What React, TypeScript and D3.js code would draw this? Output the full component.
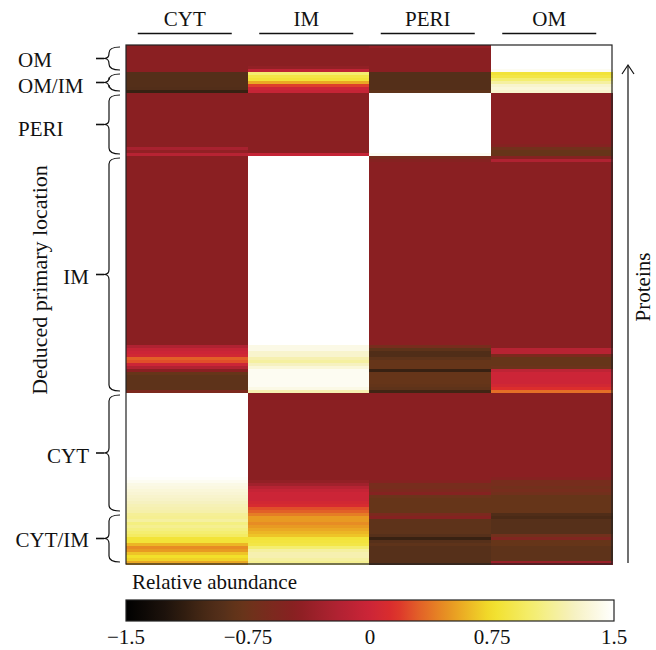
import React from "react";
import * as d3 from "d3";

// Columns (fractions) and deduced primary locations (row groups)
const columns = ["CYT", "IM", "PERI", "OM"];
const groupNames = ["OM", "OM/IM", "PERI", "IM", "CYT", "CYT/IM"];

// Each row = one protein: [CYT, IM, PERI, OM] relative abundance
const omRows: number[][] = [
  [-0.45, -0.45, -0.38, 1.5], [-0.45, -0.45, -0.45, 1.5], [-0.45, -0.45, -0.45, 1.5],
  [-0.45, -0.45, -0.45, 1.5], [-0.45, -0.45, -0.45, 1.5], [-0.45, -0.45, -0.45, 1.5],
  [-0.45, -0.45, -0.45, 1.5], [-0.45, -0.4, -0.45, 1.5], [-0.45, -0.1, -0.45, 1.45],
];
const omImRows: number[][] = [
  [-0.92, 1.0, -0.92, 0.8], [-0.92, 0.85, -0.92, 0.85], [-0.92, 0.8, -0.92, 1.0],
  [-0.92, 0.55, -0.92, 1.15], [-0.92, 0.2, -0.92, 1.3], [-0.93, 0.0, -0.92, 1.35],
  [-1.1, -0.05, -0.85, 1.3],
];
const periRows: number[][] = [
  [-0.45, -0.45, 1.5, -0.45], [-0.45, -0.45, 1.5, -0.45], [-0.45, -0.45, 1.5, -0.45],
  [-0.45, -0.45, 1.5, -0.45], [-0.45, -0.45, 1.5, -0.45], [-0.45, -0.45, 1.5, -0.45],
  [-0.45, -0.45, 1.5, -0.45], [-0.45, -0.45, 1.5, -0.45], [-0.45, -0.45, 1.5, -0.45],
  [-0.45, -0.45, 1.5, -0.45], [-0.45, -0.45, 1.5, -0.45], [-0.45, -0.45, 1.5, -0.45],
  [-0.45, -0.45, 1.5, -0.45], [-0.45, -0.45, 1.5, -0.45], [-0.45, -0.45, 1.5, -0.45],
  [-0.45, -0.45, 1.5, -0.45], [-0.45, -0.45, 1.5, -0.45], [-0.45, -0.45, 1.5, -0.5],
  [-0.25, -0.45, 1.5, -0.7], [-0.4, -0.45, 1.5, -0.8], [-0.15, -0.05, 1.45, -0.8],
];
const imRows: number[][] = [
  [-0.45, 1.5, -0.65, -0.5], [-0.45, 1.5, -0.5, -0.2],
  [-0.45, 1.5, -0.45, -0.45], [-0.45, 1.5, -0.45, -0.45], [-0.45, 1.5, -0.45, -0.45],
  [-0.45, 1.5, -0.45, -0.45], [-0.45, 1.5, -0.45, -0.45], [-0.45, 1.5, -0.45, -0.45],
  [-0.45, 1.5, -0.45, -0.45], [-0.45, 1.5, -0.45, -0.45], [-0.45, 1.5, -0.45, -0.45],
  [-0.45, 1.5, -0.45, -0.45], [-0.45, 1.5, -0.45, -0.45], [-0.45, 1.5, -0.45, -0.45],
  [-0.45, 1.5, -0.45, -0.45], [-0.45, 1.5, -0.45, -0.45], [-0.45, 1.5, -0.45, -0.45],
  [-0.45, 1.5, -0.45, -0.45], [-0.45, 1.5, -0.45, -0.45], [-0.45, 1.5, -0.45, -0.45],
  [-0.45, 1.5, -0.45, -0.45], [-0.45, 1.5, -0.45, -0.45], [-0.45, 1.5, -0.45, -0.45],
  [-0.45, 1.5, -0.45, -0.45], [-0.45, 1.5, -0.45, -0.45], [-0.45, 1.5, -0.45, -0.45],
  [-0.45, 1.5, -0.45, -0.45], [-0.45, 1.5, -0.45, -0.45], [-0.45, 1.5, -0.45, -0.45],
  [-0.45, 1.5, -0.45, -0.45], [-0.45, 1.5, -0.45, -0.45], [-0.45, 1.5, -0.45, -0.45],
  [-0.45, 1.5, -0.45, -0.45], [-0.45, 1.5, -0.45, -0.45], [-0.45, 1.5, -0.45, -0.45],
  [-0.45, 1.5, -0.45, -0.45], [-0.45, 1.5, -0.45, -0.45], [-0.45, 1.5, -0.45, -0.45],
  [-0.45, 1.5, -0.45, -0.45], [-0.45, 1.5, -0.45, -0.45], [-0.45, 1.5, -0.45, -0.45],
  [-0.45, 1.5, -0.45, -0.45], [-0.45, 1.5, -0.45, -0.45], [-0.45, 1.5, -0.45, -0.45],
  [-0.45, 1.5, -0.45, -0.45], [-0.45, 1.5, -0.45, -0.45], [-0.45, 1.5, -0.45, -0.45],
  [-0.45, 1.5, -0.45, -0.45], [-0.45, 1.5, -0.45, -0.45], [-0.45, 1.5, -0.45, -0.45],
  [-0.45, 1.5, -0.45, -0.45], [-0.45, 1.5, -0.45, -0.45], [-0.45, 1.5, -0.45, -0.45],
  [-0.45, 1.5, -0.45, -0.45], [-0.45, 1.5, -0.45, -0.45], [-0.45, 1.5, -0.45, -0.45],
  [-0.45, 1.5, -0.45, -0.45], [-0.45, 1.5, -0.45, -0.45], [-0.45, 1.5, -0.45, -0.45],
  [-0.45, 1.5, -0.45, -0.45], [-0.45, 1.5, -0.45, -0.45], [-0.45, 1.5, -0.45, -0.45],
  [-0.45, 1.5, -0.45, -0.45],
  [-0.2, 1.4, -0.65, -0.45], [-0.05, 1.4, -0.85, -0.15], [0.0, 1.3, -0.95, -0.15],
  [0.05, 1.3, -0.95, -0.6], [0.3, 1.2, -0.85, -0.8], [0.25, 1.15, -0.8, -0.8],
  [0.0, 1.25, -0.8, -0.8], [-0.2, 1.35, -0.8, -0.75], [-0.45, 1.45, -1.1, -0.1],
  [-0.8, 1.45, -0.8, 0.0], [-0.85, 1.45, -0.8, 0.0], [-0.85, 1.45, -0.8, 0.0],
  [-0.85, 1.45, -0.8, 0.0], [-0.85, 1.45, -0.82, 0.05], [-0.85, 1.4, -0.85, 0.15],
  [-0.6, 1.2, -1.05, 0.35],
];
const cytRows: number[][] = [
  [1.5, -0.45, -0.45, -0.45], [1.5, -0.45, -0.45, -0.45], [1.5, -0.45, -0.45, -0.45],
  [1.5, -0.45, -0.45, -0.45], [1.5, -0.45, -0.45, -0.45], [1.5, -0.45, -0.45, -0.45],
  [1.5, -0.45, -0.45, -0.45], [1.5, -0.45, -0.45, -0.45], [1.5, -0.45, -0.45, -0.45],
  [1.5, -0.45, -0.45, -0.45], [1.5, -0.45, -0.45, -0.45], [1.5, -0.45, -0.45, -0.45],
  [1.5, -0.45, -0.45, -0.45], [1.5, -0.45, -0.45, -0.45], [1.5, -0.45, -0.45, -0.45],
  [1.5, -0.45, -0.45, -0.45], [1.5, -0.45, -0.45, -0.45], [1.5, -0.45, -0.45, -0.45],
  [1.5, -0.45, -0.45, -0.45], [1.5, -0.45, -0.45, -0.45], [1.5, -0.45, -0.45, -0.45],
  [1.5, -0.45, -0.45, -0.45], [1.5, -0.45, -0.45, -0.45], [1.5, -0.45, -0.45, -0.45],
  [1.5, -0.45, -0.45, -0.45], [1.5, -0.45, -0.45, -0.45], [1.5, -0.45, -0.45, -0.45],
  [1.5, -0.45, -0.45, -0.45],
  [1.48, -0.45, -0.45, -0.5], [1.45, -0.4, -0.5, -0.65], [1.4, -0.3, -0.65, -0.65],
  [1.38, -0.15, -0.65, -0.7], [1.35, -0.05, -0.6, -0.65], [1.33, 0.0, -0.5, -0.7],
  [1.3, 0.0, -0.75, -0.8], [1.28, 0.0, -0.8, -0.8], [1.25, 0.05, -0.8, -0.8],
  [1.22, 0.1, -0.8, -0.8], [1.2, 0.25, -0.8, -0.8], [1.18, 0.3, -0.8, -0.8],
];
const cytImRows: number[][] = [
  [1.12, 0.4, -0.6, -0.95], [1.1, 0.5, -0.5, -1.0], [1.15, 0.5, -0.85, -0.9],
  [1.05, 0.45, -0.85, -0.9], [1.1, 0.5, -0.85, -0.9], [1.05, 0.55, -0.85, -0.9],
  [1.0, 0.6, -0.85, -0.9], [0.95, 0.65, -0.9, -0.7], [0.8, 0.8, -1.1, -0.55],
  [0.8, 0.82, -0.9, -0.8], [0.6, 0.85, -0.85, -0.8], [0.45, 1.0, -0.9, -0.85],
  [0.5, 1.15, -0.9, -0.85], [0.65, 1.2, -0.9, -0.85], [0.75, 1.2, -0.9, -0.85],
  [0.7, 1.15, -0.9, -0.85], [0.55, 1.1, -0.9, -0.35],
];

// Colour scale (relative abundance -> heat palette)
const colorDomain = [-1.5, -1.25, -1.0, -0.9, -0.8, -0.7, -0.45, -0.2, 0.0, 0.15, 0.3, 0.5, 0.75, 1.0, 1.25, 1.5];
const colorRange = ["#000000", "#1e130c", "#4a2a16", "#56301a", "#663519", "#72301c", "#8a1f22", "#b02232",
  "#cc2537", "#dc2e2c", "#e26028", "#e89a22", "#f2e02a", "#f4ee70", "#f6f1c0", "#ffffff"];
const legendTicks = [-1.5, -0.75, 0, 0.75, 1.5];
const legendTickLabels = ["\u22121.5", "\u22120.75", "0", "0.75", "1.5"];

const FONT = "'Liberation Serif', 'DejaVu Serif', serif";

export default function App() {
  const groups = [omRows, omImRows, periRows, imRows, cytRows, cytImRows];
  const rows = groups.flat();
  const x = d3.scaleBand<string>().domain(columns).range([126, 612]);
  const y = d3.scaleBand<number>().domain(d3.range(rows.length)).range([45, 564]);
  const color = d3.scaleLinear<string>().domain(colorDomain).range(colorRange).clamp(true);
  const lx = d3.scaleLinear().domain([-1.5, 1.5]).range([126, 614]);

  // group extents
  let start = 0;
  const groupInfo = groups.map((g, i) => {
    const s = start;
    const e = start + g.length - 1;
    start += g.length;
    const y0 = (y(s) as number) + 2;
    const y1 = (y(e) as number) + y.bandwidth() - 2;
    return { name: groupNames[i], y0, y1, ym: (y0 + y1) / 2 };
  });

  const labelPos: Record<string, { x: number; anchor: string; dy: number }> = {
    "OM": { x: 18, anchor: "start", dy: 1 },
    "OM/IM": { x: 18, anchor: "start", dy: 3 },
    "PERI": { x: 18, anchor: "start", dy: 4 },
    "IM": { x: 89, anchor: "end", dy: 2 },
    "CYT": { x: 89, anchor: "end", dy: 3 },
    "CYT/IM": { x: 89, anchor: "end", dy: 1 },
  };

  const brace = (y0: number, y1: number, ym: number) => {
    const xe = 120, xv = 109, xt = 104;
    return `M${xe},${y0} Q${xv},${y0} ${xv},${y0 + 6} L${xv},${ym - 5} Q${xv},${ym} ${xt},${ym} Q${xv},${ym} ${xv},${ym + 5} L${xv},${y1 - 6} Q${xv},${y1} ${xe},${y1}`;
  };

  const gradStops = d3.range(0, 101, 2).map((p) => ({
    offset: p,
    color: color(-1.5 + (3 * p) / 100),
  }));

  return (
    <svg width={656} height={650} style={{ display: "block", position: "absolute", left: 0, top: 0 }}
      fontFamily={FONT}>
      <defs>
        <linearGradient id="legendGrad" x1="0" x2="1" y1="0" y2="0">
          {gradStops.map((s) => (
            <stop key={s.offset} offset={`${s.offset}%`} stopColor={s.color} />
          ))}
        </linearGradient>
      </defs>
      <rect x={0} y={0} width={656} height={650} fill="#ffffff" />

      {/* column headers */}
      {columns.map((c) => {
        const cx = (x(c) as number) + x.bandwidth() / 2 - 2;
        return (
          <g key={c}>
            <text x={cx} y={26} fontSize={21} textAnchor="middle" fill="#111">{c}</text>
            <line x1={cx - 47} x2={cx + 47} y1={33.5} y2={33.5} stroke="#111" strokeWidth={1.3} />
          </g>
        );
      })}

      {/* heatmap cells */}
      <g shapeRendering="crispEdges">
        {rows.map((r, i) =>
          columns.map((c, j) => (
            <rect key={`${i}-${j}`} x={x(c)} y={y(i)} width={x.bandwidth() + 0.5}
              height={y.bandwidth() + 0.5} fill={color(r[j])} />
          ))
        )}
      </g>
      <rect x={126} y={45} width={486} height={519} fill="none" stroke="#222" strokeWidth={1.2} />

      {/* braces and group labels */}
      {groupInfo.map((g) => {
        const lp = labelPos[g.name];
        return (
          <g key={g.name}>
            <path d={brace(g.y0, g.y1, g.ym)} fill="none" stroke="#111" strokeWidth={1.2} />
            <line x1={96} x2={104} y1={g.ym} y2={g.ym} stroke="#111" strokeWidth={1.6} />
            <text x={lp.x} y={g.ym + 7 + lp.dy} fontSize={21} textAnchor={lp.anchor} fill="#111">{g.name}</text>
          </g>
        );
      })}

      {/* y title */}
      <text transform="translate(47,280) rotate(-90)" fontSize={22} textAnchor="middle" fill="#111">
        Deduced primary location
      </text>

      {/* proteins arrow */}
      <line x1={628} x2={628} y1={563} y2={66} stroke="#111" strokeWidth={1.2} />
      <path d="M622,74 L628,65 L634,74" fill="none" stroke="#111" strokeWidth={1.2} />
      <text transform="translate(650,287) rotate(-90)" fontSize={21} textAnchor="middle" fill="#111">
        Proteins
      </text>

      {/* legend */}
      <text x={132} y={589} fontSize={21} fill="#111">Relative abundance</text>
      <rect x={lx(-1.5)} y={600} width={lx(1.5) - lx(-1.5)} height={21} fill="url(#legendGrad)"
        stroke="#222" strokeWidth={1.2} />
      {legendTicks.map((t, i) => (
        <text key={t} x={lx(t)} y={644} fontSize={21} textAnchor="middle" fill="#111">
          {legendTickLabels[i]}
        </text>
      ))}
    </svg>
  );
}
